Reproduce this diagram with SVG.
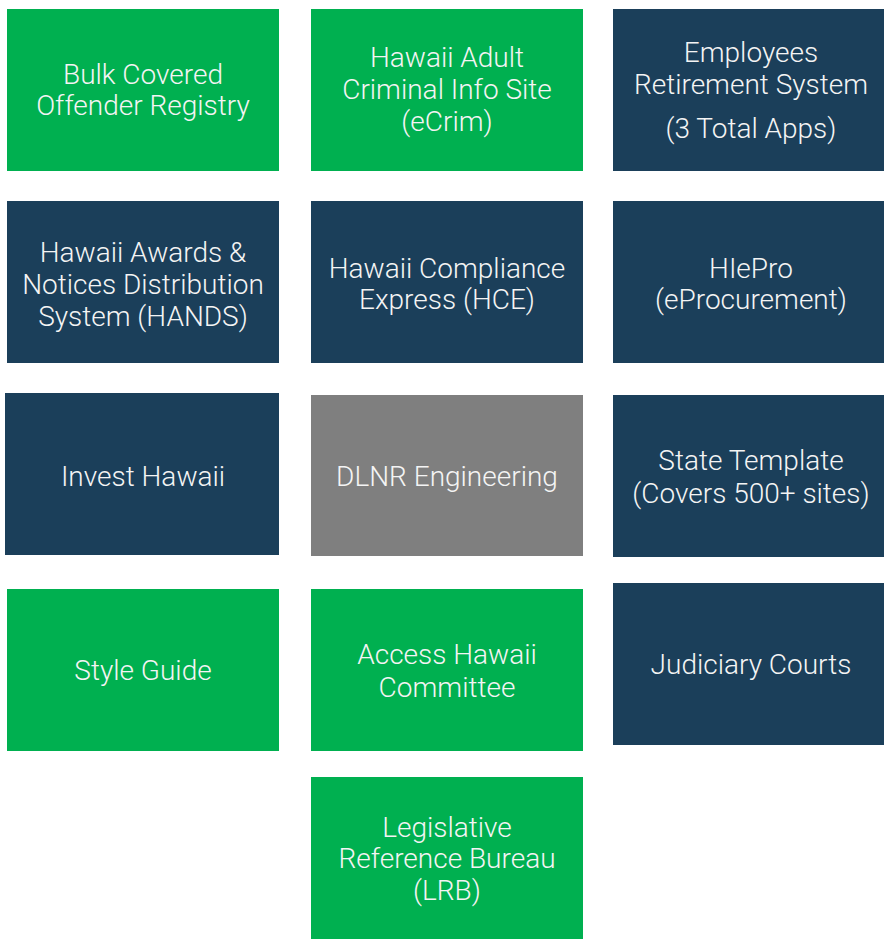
<svg xmlns="http://www.w3.org/2000/svg" width="884" height="943" viewBox="0 0 884 943">
<style>
.g{fill:#00B050}
.n{fill:#1B3F5A}
.y{fill:#7F7F7F}
text{font-family:Roboto,"Liberation Sans",Arial,sans-serif;font-weight:300;font-size:28px;fill:#F4F4F4;text-anchor:middle}
</style>
<rect width="884" height="943" fill="#FFFFFF"/>
<g id="bulk"><rect class="g" x="7" y="9" width="272" height="162"/><text x="143" y="83.5">Bulk Covered</text><text x="143" y="115">Offender Registry</text></g>
<g id="ecrim"><rect class="g" x="311" y="9" width="272" height="162"/><text x="447" y="67">Hawaii Adult</text><text x="447" y="99">Criminal Info Site</text><text x="447" y="131">(eCrim)</text></g>
<g id="ers"><rect class="n" x="613" y="9" width="272" height="162"/><text x="751" y="62">Employees</text><text x="751" y="94">Retirement System</text><text x="751" y="138">(3 Total Apps)</text></g>
<g id="hands"><rect class="n" x="7" y="201" width="272" height="162"/><text x="143" y="262">Hawaii Awards &amp;</text><text x="143" y="293.5">Notices Distribution</text><text x="143" y="325.5">System (HANDS)</text></g>
<g id="hce"><rect class="n" x="311" y="201" width="272" height="162"/><text x="447" y="277.5">Hawaii Compliance</text><text x="447" y="309">Express (HCE)</text></g>
<g id="hiepro"><rect class="n" x="613" y="201" width="272" height="162"/><text x="751" y="277.5">HIePro</text><text x="751" y="309">(eProcurement)</text></g>
<g id="invest"><rect class="n" x="5" y="393" width="274" height="162"/><text x="143" y="486">Invest Hawaii</text></g>
<g id="dlnr"><rect class="y" x="311" y="395" width="272" height="161"/><text x="447" y="486">DLNR Engineering</text></g>
<g id="state"><rect class="n" x="613" y="395" width="272" height="162"/><text x="751" y="470">State Template</text><text x="751" y="503">(Covers 500+ sites)</text></g>
<g id="style"><rect class="g" x="7" y="589" width="272" height="162"/><text x="143" y="680">Style Guide</text></g>
<g id="access"><rect class="g" x="311" y="589" width="272" height="162"/><text x="447" y="664">Access Hawaii</text><text x="447" y="696.5">Committee</text></g>
<g id="judiciary"><rect class="n" x="613" y="583" width="272" height="162"/><text x="751" y="674">Judiciary Courts</text></g>
<g id="lrb"><rect class="g" x="311" y="777" width="272" height="162"/><text x="447" y="836.5">Legislative</text><text x="447" y="868">Reference Bureau</text><text x="447" y="900">(LRB)</text></g>
<g id="connectors"></g>
</svg>
